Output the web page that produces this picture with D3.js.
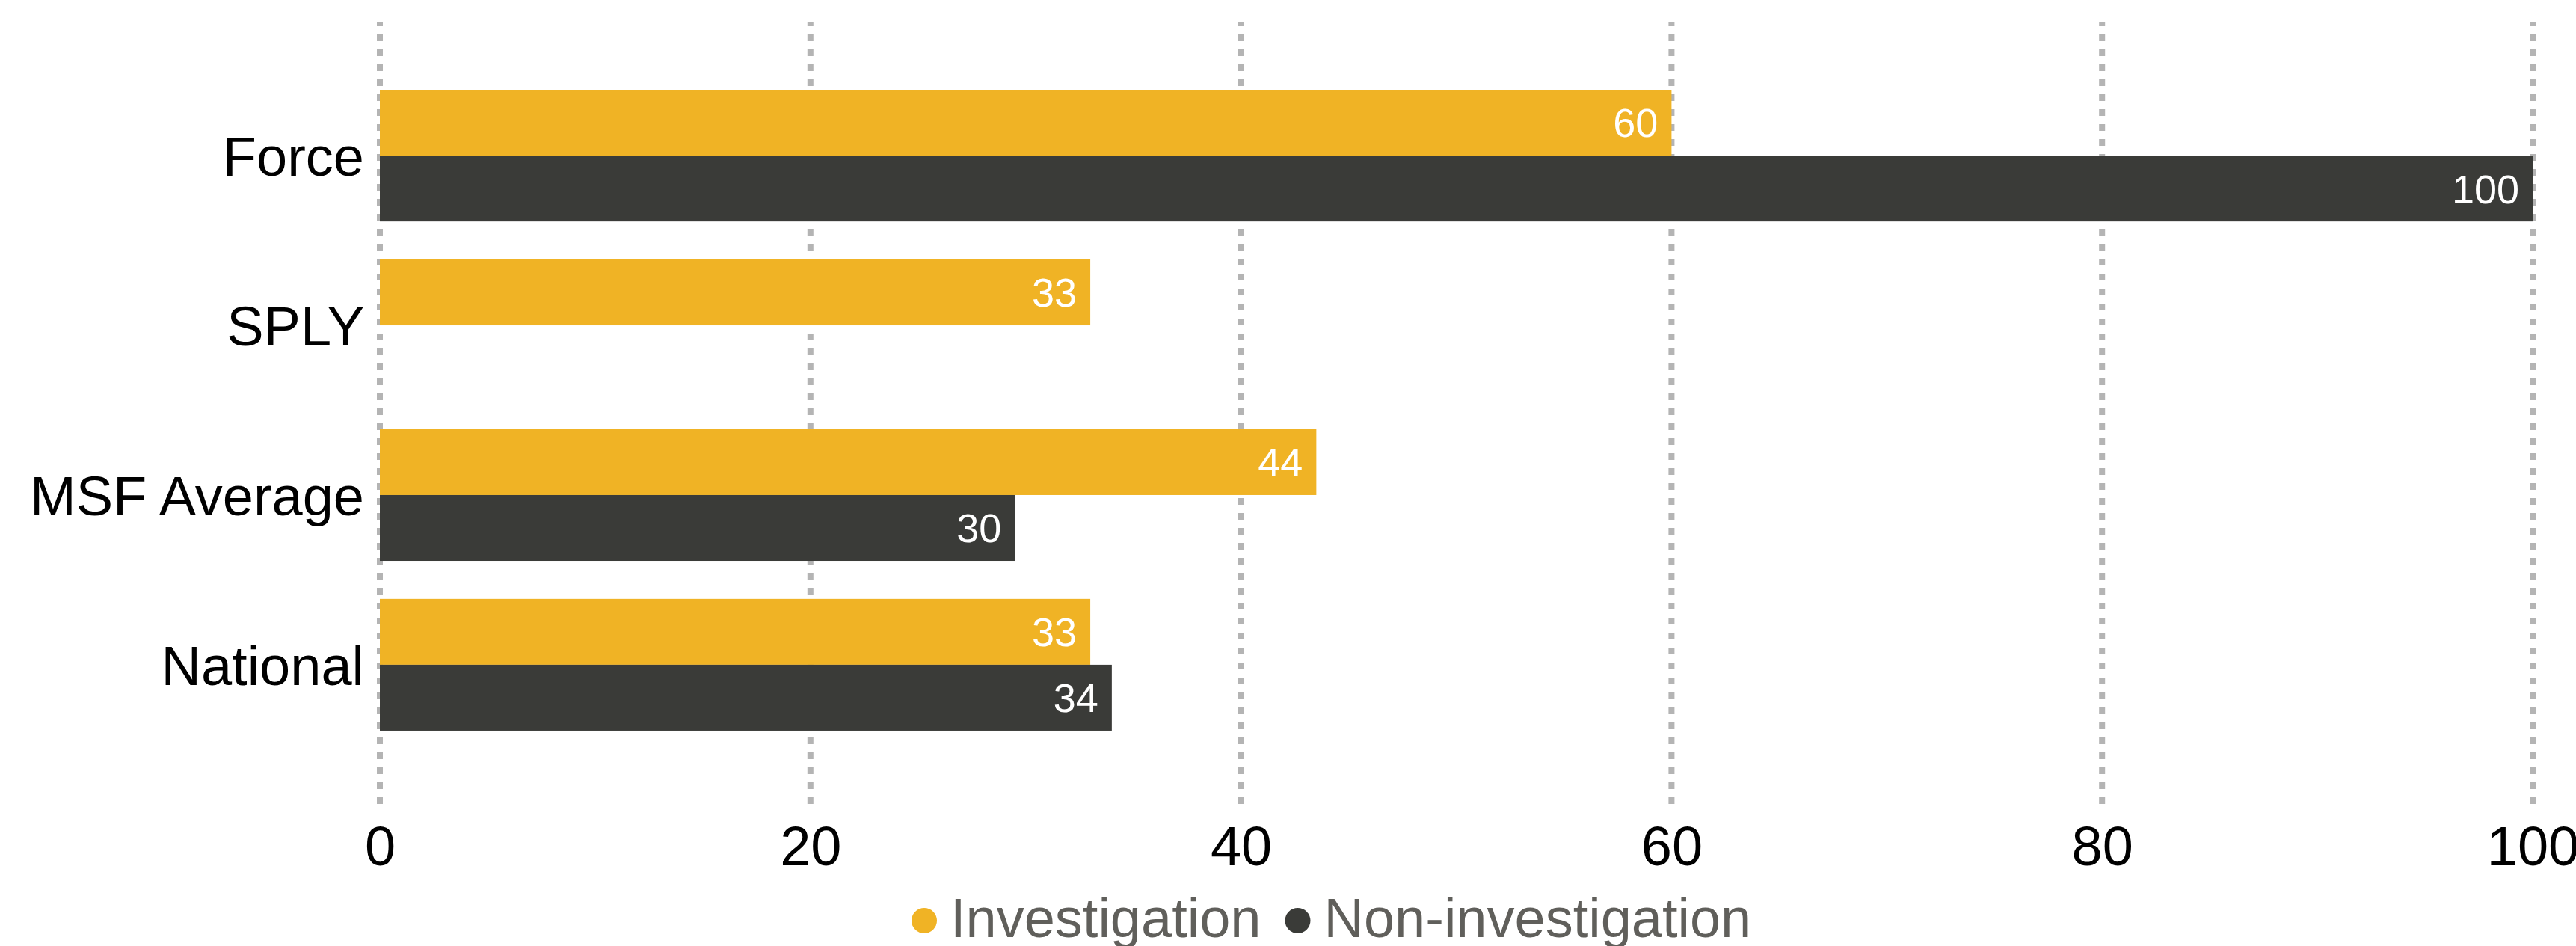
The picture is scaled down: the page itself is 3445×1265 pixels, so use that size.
<!DOCTYPE html>
<html>
<head>
<meta charset="utf-8">
<script src="https://cdn.jsdelivr.net/npm/d3@7"></script>
<style>
  body { margin: 0; background: #fff; }
  svg { display: block; font-family: "Liberation Sans", Arial, sans-serif; }
</style>
</head>
<body>
<svg id="chart" width="3445" height="1265"></svg>
<script>
const categories = ['Force', 'SPLY', 'MSF Average', 'National'];
const seriesNames = ['Investigation', 'Non-investigation'];
const investigation = [60, 33, 43.5, 33];
const nonInvestigation = [100, null, 29.5, 34];
const xTicks = [0, 20, 40, 60, 80, 100];
const colors = ['#f0b325', '#3a3b38'];

const svg = d3.select('#chart');
const width = +svg.attr('width');
const margin = { top: 30, right: 58, bottom: 190, left: 508 };

const x = d3.scaleLinear()
  .domain([0, 100])
  .range([margin.left, width - margin.right]);

const y = d3.scaleBand()
  .domain(categories)
  .range([27, 1070])
  .paddingInner(0.224)
  .paddingOuter(0.41);

const ySub = d3.scaleBand()
  .domain(seriesNames)
  .range([0, y.bandwidth()]);

// gridlines
svg.append('g')
  .selectAll('line')
  .data(xTicks)
  .enter().append('line')
  .attr('x1', d => x(d))
  .attr('x2', d => x(d))
  .attr('y1', 30)
  .attr('y2', 1075)
  .attr('stroke', '#b4b4b4')
  .attr('stroke-width', 8)
  .attr('stroke-dasharray', '9,11')
  .attr('stroke-dashoffset', 4);

// bars
const rows = categories.map((c, i) => ({
  cat: c,
  values: [investigation[i], nonInvestigation[i]]
}));

const groups = svg.append('g')
  .selectAll('g')
  .data(rows)
  .enter().append('g')
  .attr('transform', d => `translate(0,${y(d.cat)})`);

const cells = groups.selectAll('g')
  .data(d => d.values.map((v, j) => ({ name: seriesNames[j], v, j })).filter(e => e.v != null))
  .enter().append('g');

cells.append('rect')
  .attr('x', x(0))
  .attr('y', d => ySub(d.name))
  .attr('width', d => x(d.v) - x(0))
  .attr('height', ySub.bandwidth())
  .attr('fill', d => colors[d.j]);

cells.append('text')
  .attr('x', d => x(d.v) - 18)
  .attr('y', d => ySub(d.name) + ySub.bandwidth() / 2)
  .attr('dy', '0.36em')
  .attr('text-anchor', 'end')
  .attr('fill', '#fff')
  .attr('font-size', 54)
  .text(d => Math.round(d.v));

// category labels
svg.append('g')
  .selectAll('text')
  .data(categories)
  .enter().append('text')
  .attr('x', x(0) - 21)
  .attr('y', d => y(d) + y.bandwidth() / 2)
  .attr('dy', '0.36em')
  .attr('text-anchor', 'end')
  .attr('font-size', 74)
  .attr('fill', '#000')
  .text(d => d);

// x axis
const xAxis = svg.append('g')
  .attr('transform', 'translate(0,1157)')
  .call(d3.axisBottom(x).tickValues(xTicks).tickSize(0).tickPadding(0));
xAxis.select('.domain').remove();
xAxis.selectAll('text')
  .attr('dy', 0)
  .attr('font-size', 74)
  .attr('font-family', '"Liberation Sans", Arial, sans-serif')
  .attr('fill', '#000');

// legend
const legend = svg.append('g').attr('transform', 'translate(1219,1231)');
let lx = 0;
seriesNames.forEach((name, i) => {
  const item = legend.append('g').attr('transform', `translate(${lx},0)`);
  item.append('circle')
    .attr('cx', 17)
    .attr('cy', 0)
    .attr('r', 17)
    .attr('fill', colors[i]);
  const t = item.append('text')
    .attr('x', 52)
    .attr('y', 0)
    .attr('dy', '0.3em')
    .attr('font-size', 74)
    .attr('fill', '#605f5b')
    .text(name);
  lx += 52 + t.node().getComputedTextLength() + 32;
});
</script>
</body>
</html>
